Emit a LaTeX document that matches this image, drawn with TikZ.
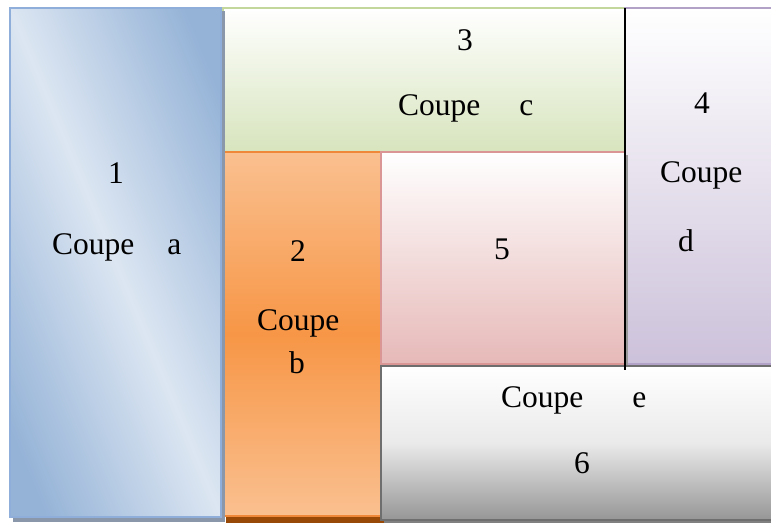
\documentclass[tikz,border=0pt]{standalone}
\usepackage{fontspec}
\setmainfont{Liberation Serif}
\definecolor{blueDark}{HTML}{95B3D7}
\definecolor{blueLight}{HTML}{DCE6F2}
\definecolor{blueEdge}{HTML}{8FAEDA}
\definecolor{blueShade}{HTML}{8A97AA}
\definecolor{greenBot}{HTML}{D7E4BD}
\definecolor{greenEdge}{HTML}{C3D69B}
\definecolor{orangeLight}{HTML}{FAC090}
\definecolor{orangeDark}{HTML}{F79646}
\definecolor{orangeEdge}{HTML}{F0883A}
\definecolor{orangeShade}{HTML}{984807}
\definecolor{pinkBot}{HTML}{E6B9B8}
\definecolor{pinkEdge}{HTML}{D99694}
\definecolor{lilacBot}{HTML}{CCC1DA}
\definecolor{lilacEdge}{HTML}{B3A2C7}
\definecolor{greyBot}{HTML}{969696}
\definecolor{greyEdge}{HTML}{6E6E6E}
\definecolor{greyShade}{HTML}{808080}
\begin{document}
\begin{tikzpicture}[x=1pt,y=-1pt,
  panel/.style={line width=2pt},
  lbl/.style={inner sep=0pt, anchor=base, text=black,
              font=\fontsize{31.5}{38}\selectfont},
  lblw/.style={lbl, anchor=base west}]
\useasboundingbox (0,0) rectangle (771,523);
\clip (0,0) rectangle (771,523);
\fill[white] (0,0) rectangle (771,523);

% panel 3 (top strip)
\fill[greyShade!60] (226,11) rectangle (628,155);
\draw[panel, draw=greenEdge, top color=white, bottom color=greenBot] (223,8) rectangle (625,152);

% panel 4 (right column)
\fill[greyShade] (628,11) rectangle (780,367);
\draw[panel, draw=lilacEdge, top color=white, bottom color=lilacBot] (625,8) rectangle (780,364);

% panel 2 (orange column)
\fill[orangeShade] (226,155) rectangle (384,523);
\draw[panel, draw=orangeEdge, top color=orangeLight, bottom color=orangeLight, middle color=orangeDark] (223,152) rectangle (381,516);

% panel 5 (centre)
\fill[greyShade!80] (384,155) rectangle (628,367);
\draw[panel, draw=pinkEdge, top color=white, bottom color=pinkBot] (381,152) rectangle (625,364);

% panel 6 (bottom strip)
\fill[greyShade] (384,368) rectangle (780,523);
\draw[panel, draw=greyEdge, top color=white, bottom color=greyBot, middle color=white!80!greyBot] (381,366) rectangle (780,520);

% panel 1 (left column): diagonal light band from top-left to bottom-right
\fill[blueShade] (13,11) rectangle (225,522);
\fill[blueDark] (10,8) rectangle (221,517);
\begin{scope}
  \clip (10,8) rectangle (221,517);
  \begin{scope}[transform canvas={shift={(115.5,262.5)}, xslant=-0.4145}]
    \shade[left color=blueDark, right color=blueDark, middle color=blueLight]
      (-175,-300) rectangle (175,300);
  \end{scope}
\end{scope}
\draw[panel, draw=blueEdge] (10,8) rectangle (221,517);

% divider between panels 3/5 and 4
\draw[line width=1.3pt, black] (625,8) coordinate (divTop) -- (625,370) coordinate (divBot);

% labels
\node[lbl]  (n1) at (116,183) {1};
\node[lblw] (c1) at (52,254) {Coupe\hspace{33pt}a};
\node[lbl]  (n2) at (298,261) {2};
\node[lblw] (c2) at (257,330) {Coupe};
\node[lbl]  (b2) at (297,373) {b};
\node[lbl]  (n3) at (465,50) {3};
\node[lblw] (c3) at (398,115) {Coupe\hspace{39pt}c};
\node[lbl]  (n4) at (702,113) {4};
\node[lblw] (c4) at (660,182) {Coupe};
\node[lbl]  (d4) at (686,251) {d};
\node[lbl]  (n5) at (502,259) {5};
\node[lblw] (c6) at (501,407) {Coupe\hspace{49pt}e};
\node[lbl]  (n6) at (582,473) {6};
\end{tikzpicture}
\end{document}
